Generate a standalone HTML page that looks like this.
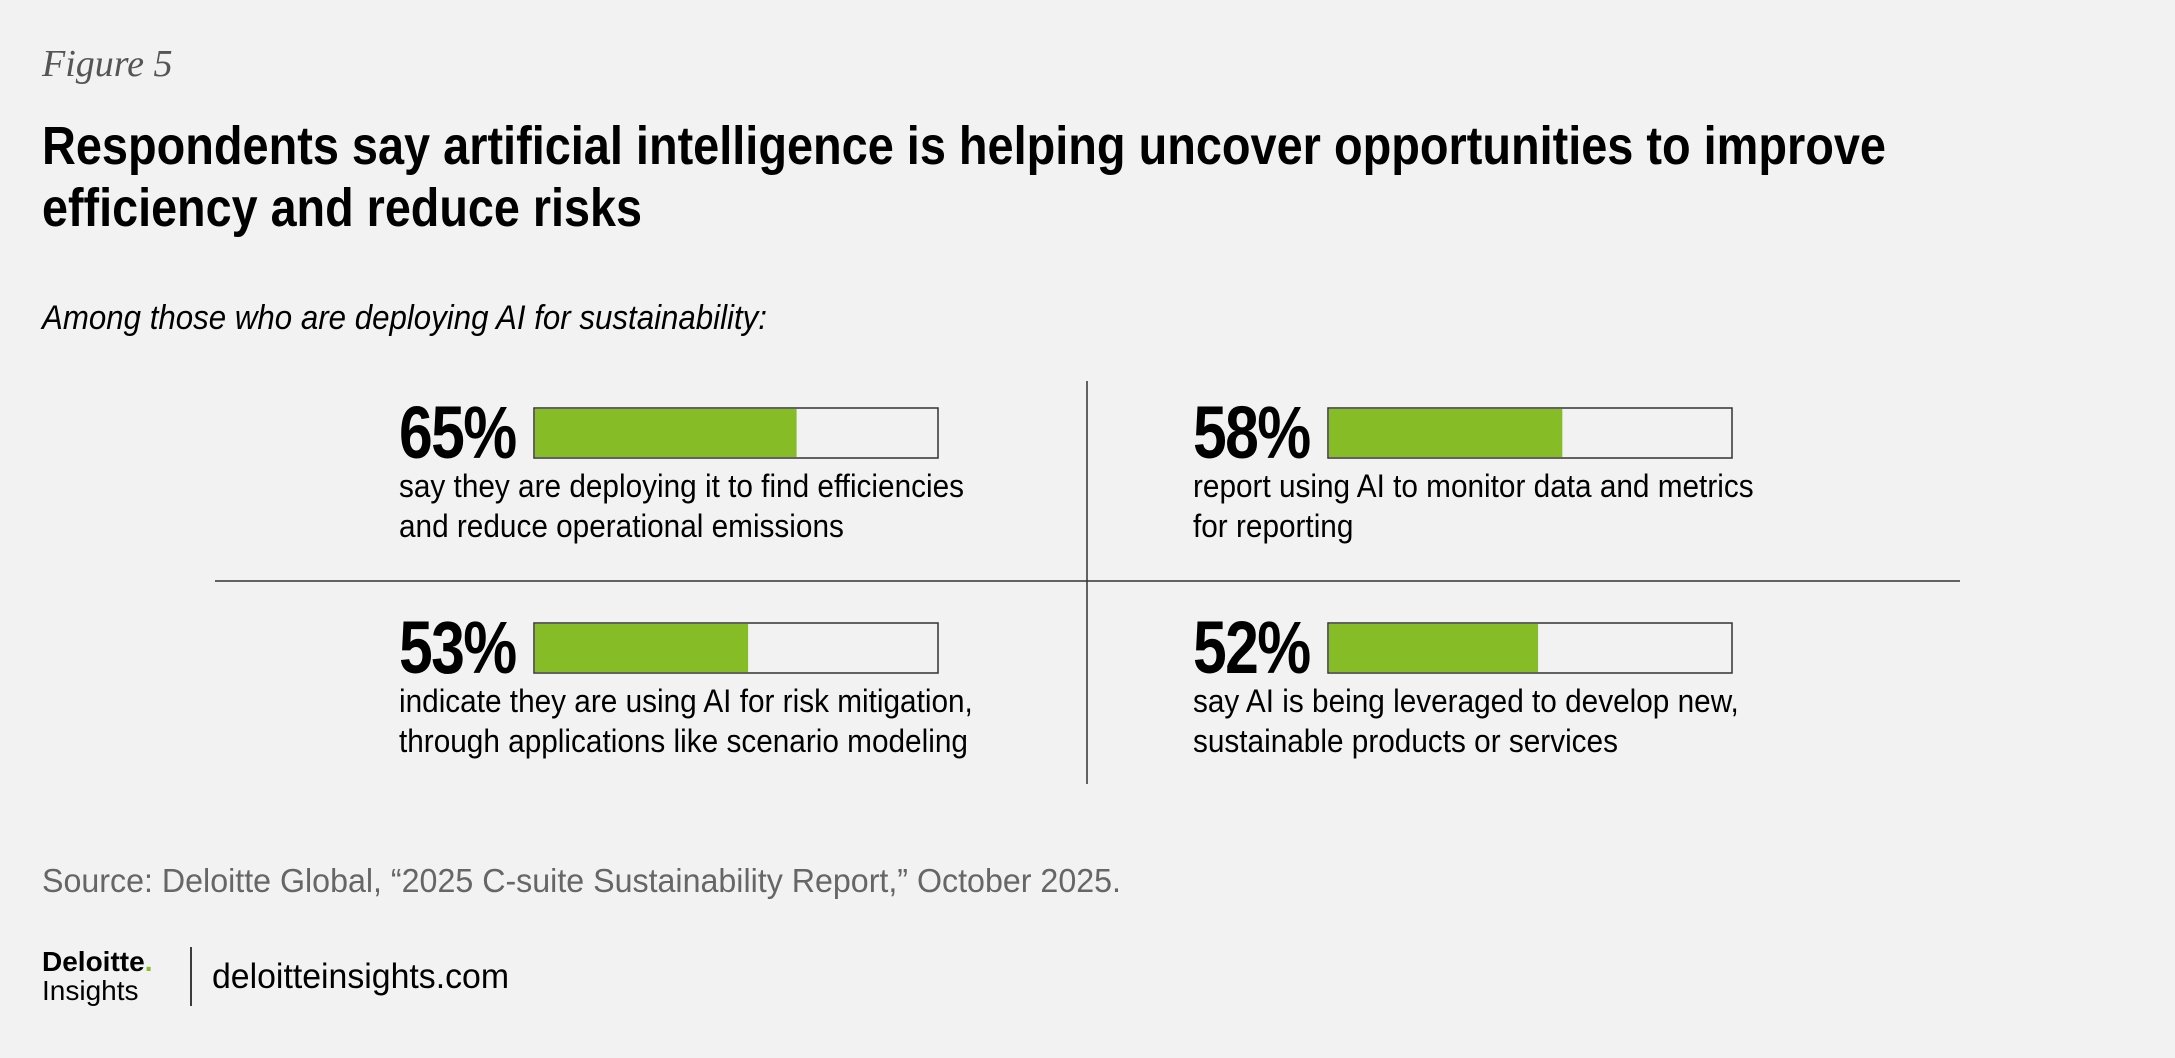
<!DOCTYPE html>
<html><head><meta charset="utf-8">
<style>
body{margin:0;background:#f2f2f2;}
svg{display:block}
</style></head>
<body>
<svg width="2175" height="1058" viewBox="0 0 2175 1058">
<rect width="2175" height="1058" fill="#f2f2f2"/>
<text x="42" y="76" font-family="Liberation Serif,serif" font-style="italic" font-size="38" fill="#555">Figure 5</text>
<g font-family="Liberation Sans, sans-serif" font-weight="bold" font-size="54" fill="#000">
<text x="42" y="164" textLength="1844" lengthAdjust="spacingAndGlyphs">Respondents say artificial intelligence is helping uncover opportunities to improve</text>
<text x="42" y="226" textLength="600" lengthAdjust="spacingAndGlyphs">efficiency and reduce risks</text>
</g>
<text x="42" y="329" font-family="Liberation Sans, sans-serif" font-style="italic" font-size="34" fill="#000" textLength="725" lengthAdjust="spacingAndGlyphs">Among those who are deploying AI for sustainability:</text>
<line x1="1087" y1="381" x2="1087" y2="784" stroke="#333" stroke-width="1.5"/>
<line x1="215" y1="581" x2="1960" y2="581" stroke="#333" stroke-width="1.5"/>
<g id="stats"></g>
<text x="42" y="892" font-family="Liberation Sans,sans-serif" font-size="33" fill="#666" textLength="1079" lengthAdjust="spacingAndGlyphs">Source: Deloitte Global, “2025 C-suite Sustainability Report,” October 2025.</text>
<g font-family="Liberation Sans,sans-serif">
<text x="42" y="971" font-weight="bold" font-size="28" fill="#000">Deloitte<tspan fill="#86bc25">.</tspan></text>
<text x="42" y="1000" font-size="28" fill="#000">Insights</text>
</g>
<line x1="191" y1="947" x2="191" y2="1006" stroke="#000" stroke-width="1.5"/>
<text x="212" y="988" font-family="Liberation Sans,sans-serif" font-size="35" fill="#000" textLength="297" lengthAdjust="spacingAndGlyphs">deloitteinsights.com</text>
</svg>
<script>
const values=[65,58,53,52];
const labels=["65%","58%","53%","52%"];
const line1=["say they are deploying it to find efficiencies","report using AI to monitor data and metrics","indicate they are using AI  for risk mitigation,","say AI is being leveraged to develop new,"];
const line2=["and reduce operational emissions","for reporting","through applications like scenario modeling","sustainable products or services"];
const NS="http://www.w3.org/2000/svg";
const g=document.getElementById('stats');
const colX=[399,1193],rowY=[458,673],barW=404,barH=50;
function xScale(v){return v/100*barW;}
function mk(t,a){const e=document.createElementNS(NS,t);for(const k in a)e.setAttribute(k,a[k]);return e;}
values.forEach((v,i)=>{
  const x=colX[i%2],y=rowY[Math.floor(i/2)];
  const grp=mk('g',{});
  
  
  const num=mk('text',{x:0,y:0,transform:'translate('+x+','+y+') scale(0.82,1)','font-family':'Liberation Sans, sans-serif','font-weight':'bold','font-size':'74','letter-spacing':'-2',fill:'#000'});
  num.textContent=labels[i];
  
  
  grp.appendChild(num);
  const bx=x+135,by=y-barH;
  const bg=mk('rect',{x:bx,y:by,width:barW,height:barH,fill:'#f2f2f2',stroke:'#333','stroke-width':1.5});
  
  
  grp.appendChild(bg);
  const fill=mk('rect',{x:bx+1,y:by+1,width:xScale(v)-1,height:barH-2,fill:'#86bc25'});
  
  
  grp.appendChild(fill);
  [line1[i],line2[i]].forEach((s,j)=>{
    const t=mk('text',{x:0,y:0,transform:'translate('+x+','+(y+39+j*40)+') scale(0.93,1)','font-family':'Liberation Sans, sans-serif','font-size':'32',fill:'#000'});
    t.textContent=s;
    
    
    grp.appendChild(t);
  });
  g.appendChild(grp);
});
</script>
</body></html>
